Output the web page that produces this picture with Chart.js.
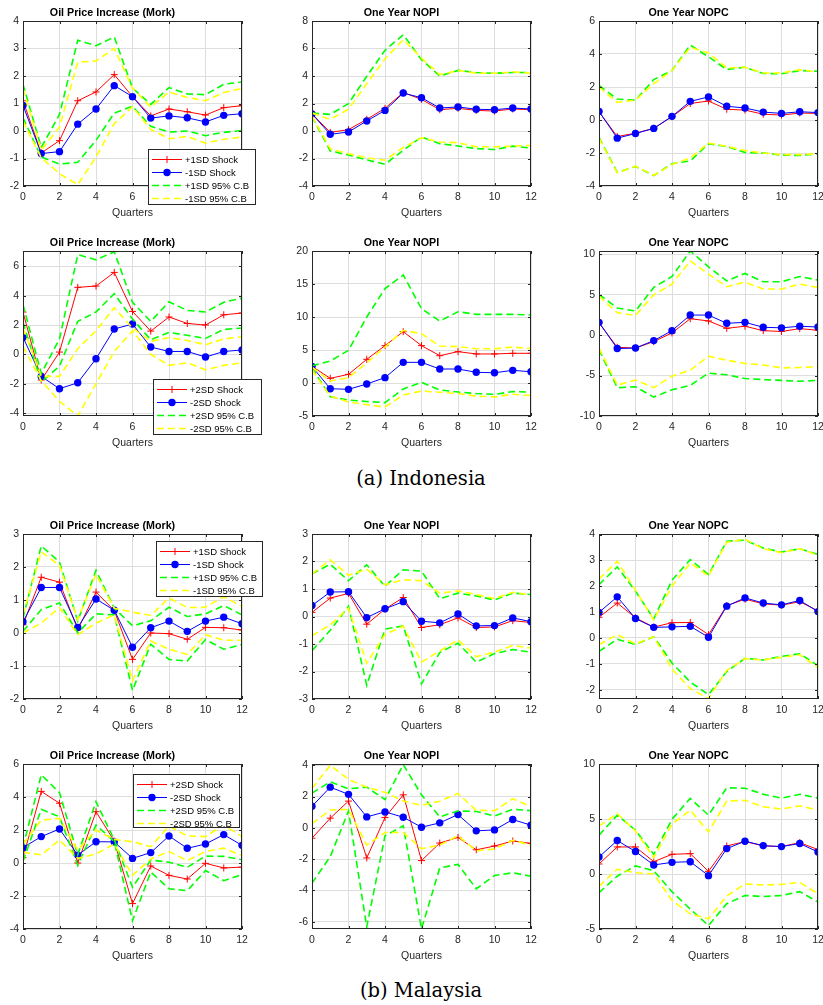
<!DOCTYPE html>
<html>
<head>
<meta charset="utf-8">
<script src="https://cdn.jsdelivr.net/npm/chart.js@4/dist/chart.umd.min.js"></script>
<style>
  html,body{margin:0;padding:0;background:#fff;}
  body{width:823px;height:1005px;position:relative;overflow:hidden;}
  canvas{position:absolute;}
  .cap{position:absolute;font-family:"DejaVu Serif",serif;font-size:19.5px;color:#000;transform:translate(-50%,-50%);white-space:nowrap;}
</style>
</head>
<body>
<div class="cap" style="left:421px;top:478px">(a) Indonesia</div>
<div class="cap" style="left:421px;top:990px">(b) Malaysia</div>
<script>
const quarters = [0,1,2,3,4,5,6,7,8,9,10,11,12];
const xTicks = [0,2,4,6,8,10,12];
const legend1 = ['+1SD Shock','-1SD Shock','+1SD 95% C.B','-1SD 95% C.B'];
const legend2 = ['+2SD Shock','-2SD Shock','+2SD 95% C.B','-2SD 95% C.B'];

// Indonesia - oil price increase, 1SD
const idOil1Pos   = [1.1,-0.8,-0.35,1.1,1.42,2.05,1.25,0.55,0.8,0.7,0.58,0.85,0.92];
const idOil1Neg   = [0.93,-0.82,-0.75,0.25,0.8,1.65,1.25,0.47,0.55,0.48,0.33,0.57,0.63];
const idOil1PosUp = [1.7,-0.6,0.6,3.3,3.1,3.42,1.56,0.97,1.58,1.35,1.32,1.7,1.78];
const idOil1PosLo = [0.48,-0.95,-1.2,-1.14,-0.34,0.65,0.9,0.17,-0.04,0.0,-0.17,-0.05,0.02];
const idOil1NegUp = [1.55,-0.7,0.15,2.5,2.55,3.0,1.56,0.87,1.42,1.22,1.1,1.4,1.55];
const idOil1NegLo = [0.36,-0.97,-1.55,-1.95,-0.95,0.27,0.88,0.06,-0.28,-0.2,-0.44,-0.3,-0.22];
// Indonesia - NOPI, 1SD
const idNopi1Pos   = [1.25,-0.1,0.1,0.85,1.65,2.8,2.3,1.55,1.65,1.5,1.45,1.6,1.55];
const idNopi1Neg   = [1.24,-0.24,-0.07,0.73,1.5,2.76,2.42,1.67,1.75,1.58,1.55,1.67,1.6];
const idNopi1PosUp = [1.3,1.21,1.99,3.98,5.87,7.0,5.19,4.0,4.41,4.25,4.2,4.25,4.25];
const idNopi1PosLo = [1.05,-1.45,-1.75,-2.1,-2.42,-1.4,-0.44,-0.92,-1.09,-1.28,-1.35,-1.1,-1.24];
const idNopi1NegUp = [1.3,0.85,1.58,3.44,5.24,6.64,5.3,4.1,4.4,4.2,4.2,4.3,4.2];
const idNopi1NegLo = [1.1,-1.3,-1.65,-1.95,-2.13,-1.2,-0.5,-0.8,-0.85,-1.15,-1.15,-1.1,-1.05];
// Indonesia - NOPC, 1SD
const idNopc1Pos   = [0.5,-1.0,-0.8,-0.5,0.2,1.0,1.15,0.65,0.6,0.35,0.3,0.42,0.4];
const idNopc1Neg   = [0.52,-1.1,-0.82,-0.51,0.22,1.13,1.4,0.83,0.73,0.48,0.4,0.5,0.45];
const idNopc1PosUp = [2.09,1.27,1.2,2.45,3.0,4.54,3.83,3.06,3.2,2.82,2.8,3.0,2.95];
const idNopc1PosLo = [-1.06,-3.17,-2.82,-3.37,-2.65,-2.48,-1.44,-1.6,-1.97,-2.0,-2.13,-2.15,-2.05];
const idNopc1NegUp = [2.0,1.07,1.2,2.2,3.0,4.4,4.07,3.15,3.2,2.85,2.85,3.05,2.9];
const idNopc1NegLo = [-1.1,-3.2,-2.8,-3.35,-2.7,-2.3,-1.4,-1.6,-1.85,-2.0,-2.1,-2.1,-2.05];
// Indonesia - oil price increase, 2SD
const idOil2Pos   = [2.89,-1.75,0.16,4.57,4.66,5.59,2.93,1.59,2.55,2.11,2.0,2.7,2.82];
const idOil2Neg   = [1.16,-1.5,-2.34,-1.93,-0.3,1.73,2.07,0.5,0.2,0.2,-0.18,0.2,0.3];
const idOil2PosUp = [3.39,-1.3,1.05,6.8,6.45,7.0,3.55,2.25,3.59,3.0,2.89,3.55,3.84];
const idOil2PosLo = [2.2,-1.89,-0.8,2.25,2.89,4.14,2.41,1.0,1.5,1.3,1.09,1.7,1.8];
const idOil2NegUp = [1.8,-1.5,-1.5,0.39,1.61,3.18,1.8,0.89,1.15,0.95,0.66,1.05,1.2];
const idOil2NegLo = [0.55,-1.8,-3.2,-4.2,-2.0,0.2,1.61,0.0,-0.75,-0.57,-1.05,-0.75,-0.57];
// Indonesia - NOPI, 2SD
const idNopi2Pos   = [2.53,0.71,1.31,3.59,5.66,7.78,5.66,4.14,4.75,4.4,4.4,4.5,4.5];
const idNopi2Neg   = [2.5,-0.86,-0.96,-0.15,0.81,3.13,3.13,2.12,2.12,1.62,1.55,1.92,1.7];
const idNopi2PosUp = [2.6,3.33,4.95,10.0,14.3,16.36,11.26,9.39,10.8,10.4,10.4,10.4,10.3];
const idNopi2PosLo = [2.3,-2.07,-2.58,-2.8,-2.98,-0.9,0.1,-1.06,-1.36,-1.6,-1.72,-1.3,-1.4];
const idNopi2NegUp = [2.4,0.3,0.81,3.03,5.45,7.98,7.47,5.6,5.5,5.2,5.2,5.45,5.2];
const idNopi2NegLo = [2.0,-2.0,-2.88,-3.28,-3.64,-1.82,-1.21,-1.4,-1.6,-2.0,-2.1,-1.7,-1.9];
// Indonesia - NOPC, 2SD
const idNopc2Pos   = [1.5,-1.5,-1.6,-0.8,0.27,2.03,1.75,0.84,1.1,0.55,0.45,0.8,0.6];
const idNopc2Neg   = [1.58,-1.66,-1.6,-0.68,0.55,2.48,2.48,1.46,1.58,0.97,0.9,1.1,1.0];
const idNopc2PosUp = [5.03,3.35,2.98,5.9,7.25,10.4,8.44,6.71,7.62,6.59,6.6,7.25,6.8];
const idNopc2PosLo = [-1.8,-6.5,-6.39,-7.66,-6.76,-6.22,-4.7,-4.9,-5.36,-5.5,-5.6,-5.7,-5.6];
const idNopc2NegUp = [4.8,2.77,2.44,4.99,6.3,9.18,7.54,5.98,6.55,5.7,5.7,6.3,5.9];
const idNopc2NegLo = [-1.6,-6.18,-5.56,-6.5,-5.07,-4.33,-2.6,-3.1,-3.5,-3.7,-4.05,-4.0,-3.9];
// Malaysia - oil price increase, 1SD
const myOil1Pos   = [0.25,1.69,1.54,0.1,1.24,0.68,-0.8,0.0,-0.02,-0.19,0.17,0.16,0.09];
const myOil1Neg   = [0.34,1.38,1.38,0.17,1.03,0.69,-0.43,0.16,0.36,0.05,0.36,0.48,0.28];
const myOil1PosUp = [0.45,2.64,2.15,0.36,1.9,0.75,0.22,0.37,0.78,0.5,0.58,0.83,0.55];
const myOil1PosLo = [0.05,0.71,0.91,0.0,0.58,0.55,-1.74,-0.34,-0.8,-0.85,-0.2,-0.49,-0.35];
const myOil1NegUp = [0.55,2.46,2.05,0.4,1.78,0.75,0.63,0.53,1.06,0.77,0.78,1.1,0.8];
const myOil1NegLo = [0.0,0.3,0.77,-0.05,0.3,0.55,-1.45,-0.24,-0.49,-0.65,-0.05,-0.22,-0.22];
// Malaysia - NOPI, 1SD
const myNopi1Pos   = [0.15,0.67,0.84,-0.28,0.27,0.69,-0.4,-0.3,-0.05,-0.4,-0.38,-0.15,-0.22];
const myNopi1Neg   = [0.4,0.89,0.9,-0.04,0.28,0.54,-0.17,-0.23,0.09,-0.34,-0.33,-0.05,-0.19];
const myNopi1PosUp = [1.55,1.9,1.3,1.88,1.1,1.7,1.65,0.65,0.85,0.75,0.6,0.85,0.8];
const myNopi1PosLo = [-1.24,-0.5,0.37,-2.5,-0.46,-0.34,-2.45,-1.31,-0.97,-1.66,-1.35,-1.2,-1.3];
const myNopi1NegUp = [1.55,2.06,1.5,1.72,1.15,1.34,1.3,0.85,0.93,0.8,0.65,0.88,0.78];
const myNopi1NegLo = [-0.7,-0.3,0.3,-1.7,-0.65,-0.35,-1.66,-1.25,-0.85,-1.46,-1.3,-1.05,-1.15];
// Malaysia - NOPC, 1SD
const myNopc1Pos   = [0.8,1.35,0.78,0.42,0.59,0.6,0.13,1.25,1.5,1.32,1.27,1.4,1.05];
const myNopc1Neg   = [0.99,1.59,0.75,0.41,0.43,0.45,0.03,1.23,1.55,1.35,1.28,1.45,1.02];
const myNopc1PosUp = [2.06,2.75,1.81,0.74,2.23,3.03,2.45,3.74,3.78,3.48,3.32,3.45,3.23];
const myNopc1PosLo = [-0.52,-0.05,-0.25,0.05,-0.97,-1.7,-2.19,-1.3,-0.79,-0.85,-0.71,-0.61,-1.07];
const myNopc1NegUp = [2.28,2.97,1.85,0.7,2.0,2.9,2.4,3.7,3.82,3.45,3.3,3.45,3.2];
const myNopc1NegLo = [-0.26,0.13,-0.23,0.05,-1.2,-1.96,-2.34,-1.25,-0.8,-0.85,-0.75,-0.65,-1.15];
// Malaysia - oil price increase, 2SD
const myOil2Pos   = [0.32,4.34,3.62,0.0,3.11,1.33,-2.46,-0.18,-0.75,-0.97,-0.02,-0.3,-0.25];
const myOil2Neg   = [0.93,1.6,2.06,0.48,1.29,1.28,0.28,0.63,1.64,0.89,1.15,1.72,1.07];
const myOil2PosUp = [0.95,5.35,4.26,0.5,3.72,1.4,-1.47,0.18,0.05,-0.26,0.42,0.4,0.2];
const myOil2PosLo = [0.1,3.25,2.8,-0.14,2.3,1.3,-3.5,-0.55,-1.56,-1.68,-0.46,-1.07,-0.7];
const myOil2NegUp = [1.15,2.6,2.7,0.79,2.0,1.43,1.29,0.99,2.24,1.64,1.6,2.3,1.6];
const myOil2NegLo = [0.65,0.5,1.39,0.28,0.55,1.15,-0.75,0.25,0.69,0.15,0.7,0.9,0.45];
// Malaysia - NOPI, 2SD
const myNopi2Pos   = [-0.66,0.62,1.71,-1.92,0.66,2.11,-2.09,-0.97,-0.61,-1.4,-1.16,-0.84,-0.99];
const myNopi2Neg   = [1.38,2.6,2.14,0.7,1.02,0.68,0.04,0.32,0.85,-0.19,-0.13,0.53,0.17];
const myNopi2PosUp = [2.22,2.94,2.5,2.6,1.8,4.04,2.11,0.7,1.08,1.05,0.75,1.19,1.1];
const myNopi2PosLo = [-3.53,-1.84,1.08,-6.32,-0.51,0.13,-6.45,-2.56,-2.33,-3.89,-3.04,-2.87,-3.09];
const myNopi2NegUp = [2.52,4.0,3.09,2.6,2.27,1.71,1.44,1.7,2.2,1.12,1.1,1.86,1.35];
const myNopi2NegLo = [0.27,1.14,1.18,-1.1,-0.3,-0.3,-1.33,-1.1,-0.51,-1.46,-1.35,-0.8,-1.1];
// Malaysia - NOPC, 2SD
const myNopc2Pos   = [0.91,2.46,2.46,1.12,1.79,1.85,0.24,2.55,2.95,2.55,2.5,2.85,2.22];
const myNopc2Neg   = [1.55,3.04,2.04,0.82,1.06,1.12,-0.15,2.31,2.98,2.58,2.49,2.77,2.0];
const myNopc2PosUp = [3.53,5.35,3.98,1.79,4.98,6.87,5.35,7.84,7.8,7.25,6.9,7.25,6.9];
const myNopc2PosLo = [-1.7,-0.2,0.73,0.3,-1.61,-3.19,-4.68,-2.7,-1.95,-2.05,-1.95,-1.6,-2.55];
const myNopc2NegUp = [4.35,5.5,3.9,1.49,4.53,5.8,3.83,6.63,6.7,6.11,5.9,6.2,5.8];
const myNopc2NegLo = [-1.12,0.43,0.12,0.0,-2.4,-3.62,-4.07,-2.0,-0.91,-1.0,-0.95,-0.76,-1.8];

const FONT = '"Liberation Sans", Arial, Helvetica, sans-serif';
const INK = '#262626';
const colX = [23, 312, 599];
const rowY = [21, 251, 534, 764];

const panels = [
  {c:0,r:0,title:'Oil Price Increase (Mork)',labels:legend1,s:[idOil1Pos,idOil1Neg,idOil1PosUp,idOil1PosLo,idOil1NegUp,idOil1NegLo],yMin:-2,yMax:4,yTicks:[-2,-1,0,1,2,3,4],legend:{dx:125,dy:128,w:107,h:55}},
  {c:1,r:0,title:'One Year NOPI',labels:legend1,s:[idNopi1Pos,idNopi1Neg,idNopi1PosUp,idNopi1PosLo,idNopi1NegUp,idNopi1NegLo],yMin:-4,yMax:8,yTicks:[-4,-2,0,2,4,6,8]},
  {c:2,r:0,title:'One Year NOPC',labels:legend1,s:[idNopc1Pos,idNopc1Neg,idNopc1PosUp,idNopc1PosLo,idNopc1NegUp,idNopc1NegLo],yMin:-4,yMax:6,yTicks:[-4,-2,0,2,4,6]},
  {c:0,r:1,title:'Oil Price Increase (Mork)',labels:legend2,s:[idOil2Pos,idOil2Neg,idOil2PosUp,idOil2PosLo,idOil2NegUp,idOil2NegLo],yMin:-4.2,yMax:7.05,yTicks:[-4,-2,0,2,4,6],legend:{dx:130,dy:128,w:108,h:55}},
  {c:1,r:1,title:'One Year NOPI',labels:legend2,s:[idNopi2Pos,idNopi2Neg,idNopi2PosUp,idNopi2PosLo,idNopi2NegUp,idNopi2NegLo],yMin:-5,yMax:20,yTicks:[-5,0,5,10,15,20]},
  {c:2,r:1,title:'One Year NOPC',labels:legend2,s:[idNopc2Pos,idNopc2Neg,idNopc2PosUp,idNopc2PosLo,idNopc2NegUp,idNopc2NegLo],yMin:-10,yMax:10.4,yTicks:[-10,-5,0,5,10]},
  {c:0,r:2,title:'Oil Price Increase (Mork)',labels:legend1,s:[myOil1Pos,myOil1Neg,myOil1PosUp,myOil1PosLo,myOil1NegUp,myOil1NegLo],yMin:-2,yMax:3,yTicks:[-2,-1,0,1,2,3],legend:{dx:133,dy:7,w:106,h:55}},
  {c:1,r:2,title:'One Year NOPI',labels:legend1,s:[myNopi1Pos,myNopi1Neg,myNopi1PosUp,myNopi1PosLo,myNopi1NegUp,myNopi1NegLo],yMin:-3,yMax:3,yTicks:[-3,-2,-1,0,1,2,3]},
  {c:2,r:2,title:'One Year NOPC',labels:legend1,s:[myNopc1Pos,myNopc1Neg,myNopc1PosUp,myNopc1PosLo,myNopc1NegUp,myNopc1NegLo],yMin:-2.36,yMax:4.02,yTicks:[-2,-1,0,1,2,3,4]},
  {c:0,r:3,title:'Oil Price Increase (Mork)',labels:legend2,s:[myOil2Pos,myOil2Neg,myOil2PosUp,myOil2PosLo,myOil2NegUp,myOil2NegLo],yMin:-4,yMax:6,yTicks:[-4,-2,0,2,4,6],legend:{dx:110,dy:10,w:106,h:53}},
  {c:1,r:3,title:'One Year NOPI',labels:legend2,s:[myNopi2Pos,myNopi2Neg,myNopi2PosUp,myNopi2PosLo,myNopi2NegUp,myNopi2NegLo],yMin:-6.46,yMax:4.08,yTicks:[-6,-4,-2,0,2,4]},
  {c:2,r:3,title:'One Year NOPC',labels:legend2,s:[myNopc2Pos,myNopc2Neg,myNopc2PosUp,myNopc2PosLo,myNopc2NegUp,myNopc2NegLo],yMin:-5,yMax:10,yTicks:[-5,0,5,10]}
];

// box round the axes with inward ticks, like matlab "box on"
const axesBox = {
  id: 'axesBox',
  afterDatasetsDraw(chart) {
    const {ctx, chartArea: a, scales} = chart;
    ctx.save();
    ctx.strokeStyle = INK;
    ctx.lineWidth = 1;
    ctx.setLineDash([]);
    ctx.beginPath();
    scales.x.ticks.forEach(t => {
      const px = Math.round(scales.x.getPixelForValue(t.value)) + 0.5;
      ctx.moveTo(px, a.bottom); ctx.lineTo(px, a.bottom - 3);
      ctx.moveTo(px, a.top); ctx.lineTo(px, a.top + 3);
    });
    scales.y.ticks.forEach(t => {
      const py = Math.round(scales.y.getPixelForValue(t.value)) + 0.5;
      ctx.moveTo(a.left, py); ctx.lineTo(a.left + 3, py);
      ctx.moveTo(a.right, py); ctx.lineTo(a.right - 3, py);
    });
    ctx.stroke();
    ctx.strokeRect(Math.round(a.left) + 0.5, Math.round(a.top) + 0.5,
                   Math.round(a.right - a.left) - 1, Math.round(a.bottom - a.top) - 1);
    ctx.restore();
  }
};

// legend box placed freely, the way matlab puts it
const boxLegend = {
  id: 'boxLegend',
  afterDraw(chart, args, opts) {
    if (!opts || !opts.show) return;
    const {ctx, chartArea: a} = chart;
    const x0 = Math.round(a.left + opts.dx), y0 = Math.round(a.top + opts.dy);
    ctx.save();
    ctx.fillStyle = '#fff';
    ctx.fillRect(x0, y0, opts.w, opts.h);
    ctx.strokeStyle = INK;
    ctx.lineWidth = 1;
    ctx.strokeRect(x0 + 0.5, y0 + 0.5, opts.w, opts.h);
    const ds = chart.data.datasets;
    [ds[0], ds[1], ds[2], ds[4]].forEach((d, i) => {
      const y = y0 + 10.5 + 13 * i;
      ctx.setLineDash(d.borderDash || []);
      ctx.strokeStyle = d.borderColor;
      ctx.lineWidth = d.borderWidth;
      ctx.beginPath();
      ctx.moveTo(x0 + 4, y); ctx.lineTo(x0 + 34, y);
      ctx.stroke();
      ctx.setLineDash([]);
      if (d.pointStyle === 'cross') {
        ctx.beginPath();
        ctx.moveTo(x0 + 19 - 3.5, y); ctx.lineTo(x0 + 19 + 3.5, y);
        ctx.moveTo(x0 + 19, y - 3.5); ctx.lineTo(x0 + 19, y + 3.5);
        ctx.stroke();
      } else if (d.pointStyle === 'circle') {
        ctx.fillStyle = d.pointBackgroundColor;
        ctx.beginPath();
        ctx.arc(x0 + 19, y, 3.7, 0, Math.PI * 2);
        ctx.fill();
      }
      ctx.fillStyle = '#000';
      ctx.font = '9.5px ' + FONT;
      ctx.textBaseline = 'middle';
      ctx.fillText(d.label, x0 + 37, y + 0.5);
    });
    ctx.restore();
  }
};

function makeDatasets(p) {
  const dash = (label, data, color, order) => ({
    label, data, borderColor: color, borderWidth: 1.6, borderDash: [7, 4],
    pointRadius: 0, fill: false, tension: 0, order
  });
  return [
    {label: p.labels[0], data: p.s[0], borderColor: '#ff0000', borderWidth: 1,
     pointStyle: 'cross', pointRadius: 3.5, pointBorderColor: '#ff0000', pointBorderWidth: 1,
     pointBackgroundColor: '#ff0000', fill: false, tension: 0, order: 6},
    {label: p.labels[1], data: p.s[1], borderColor: '#0000ff', borderWidth: 1,
     pointStyle: 'circle', pointRadius: 3.7, pointBorderColor: '#0000ff', pointBorderWidth: 0,
     pointBackgroundColor: '#0000ff', fill: false, tension: 0, order: 5},
    dash(p.labels[2], p.s[2], '#00ff00', 4),
    dash(p.labels[2], p.s[3], '#00ff00', 3),
    dash(p.labels[3], p.s[4], '#ffff00', 2),
    dash(p.labels[3], p.s[5], '#ffff00', 1)
  ];
}

Chart.defaults.font.family = FONT;
Chart.defaults.color = INK;

panels.forEach(p => {
  const left = colX[p.c], top = rowY[p.r];
  const cv = document.createElement('canvas');
  cv.width = 299; cv.height = 225;
  cv.style.width = '299px'; cv.style.height = '225px';
  cv.style.left = (left - 40) + 'px';
  cv.style.top = (top - 20) + 'px';
  document.body.appendChild(cv);

  new Chart(cv, {
    type: 'line',
    data: {labels: quarters, datasets: makeDatasets(p)},
    plugins: [axesBox, boxLegend],
    options: {
      responsive: false,
      devicePixelRatio: 1,
      animation: false,
      events: [],
      layout: {padding: {left: 0, right: 40, top: 0, bottom: 0}},
      plugins: {
        legend: {display: false},
        tooltip: {enabled: false},
        title: {
          display: true, text: p.title, color: '#000',
          font: {family: FONT, size: 10.7, weight: 'bold'},
          padding: {top: 5.6, bottom: 1.56}
        },
        boxLegend: p.legend ? Object.assign({show: true}, p.legend) : {show: false}
      },
      scales: {
        x: {
          type: 'linear', min: 0, max: 12,
          afterBuildTicks: s => { s.ticks = xTicks.map(v => ({value: v})); },
          afterFit: s => { s.height = 40; },
          grid: {color: '#dedede', lineWidth: 1, drawTicks: false},
          border: {display: false},
          ticks: {padding: 5, color: INK, font: {size: 10.5}, maxRotation: 0, autoSkip: false},
          title: {display: true, text: 'Quarters', color: INK, font: {size: 10.5},
                  padding: {top: 0, bottom: 6.7}}
        },
        y: {
          min: p.yMin, max: p.yMax,
          afterBuildTicks: s => { s.ticks = p.yTicks.map(v => ({value: v})); },
          afterFit: s => { s.width = 40; },
          grid: {color: '#dedede', lineWidth: 1, drawTicks: false},
          border: {display: false},
          ticks: {padding: 4, color: INK, font: {size: 10.5}, autoSkip: false}
        }
      }
    }
  });
});
</script>
</body>
</html>
